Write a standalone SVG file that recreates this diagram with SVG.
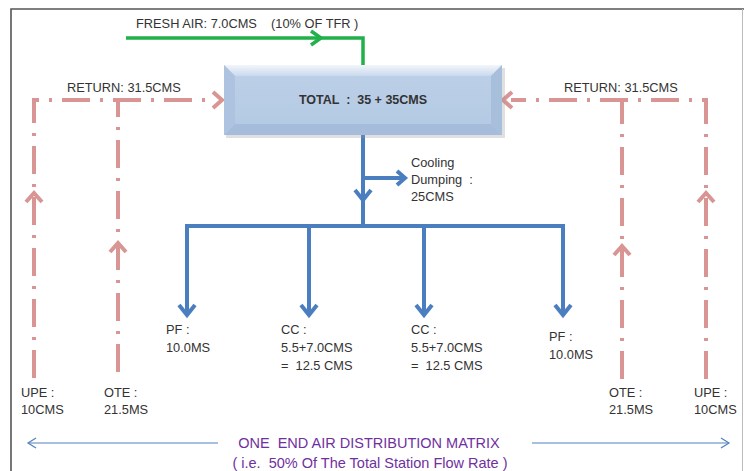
<svg xmlns="http://www.w3.org/2000/svg" width="744" height="471" viewBox="0 0 744 471">
<defs>
<style>
text{font-family:"Liberation Sans",Arial,sans-serif;fill:#333}
.lbl{font-size:12.8px}
.red{fill:none;stroke:#D99594;stroke-width:4;stroke-dasharray:28 10 3 10}
.redh{fill:none;stroke:#D99594;stroke-width:4}
.blue{fill:none;stroke:#4A7EBF;stroke-width:4}
.green{fill:none;stroke:#22B04B;stroke-width:3.5}
.thin{fill:none;stroke:#4F81BD;stroke-width:1.2}
.purple{fill:#7030A0;font-size:14.5px}
</style>
<linearGradient id="face" x1="0" y1="0" x2="0" y2="1">
<stop offset="0" stop-color="#BDD0E8"/><stop offset="1" stop-color="#B3C9E3"/>
</linearGradient>
<linearGradient id="topf" x1="0" y1="0" x2="0" y2="1">
<stop offset="0" stop-color="#F2F6FB"/><stop offset="1" stop-color="#C9D9EE"/>
</linearGradient>
</defs>
<rect width="744" height="471" fill="#fff"/>
<g id="frame">
<path d="M11,471 V9 H744" fill="none" stroke="#555" stroke-width="1.6"/>
<line x1="742.5" y1="9" x2="742.5" y2="471" stroke="#bbb" stroke-width="1"/>
</g>
<g id="connectors">
<g id="fresh-air">
<path class="green" d="M126,38 H363 V65"/>
<path class="green" d="M311,31 L321,38 L311,45"/>
</g>
<g id="return-left">
<path class="red" d="M34,378 V100 H214"/>
<path class="red" d="M118,372 V100"/>
<path class="redh" d="M213,92 L222,100 L213,108"/>
<path class="redh" d="M26,202 L34,193 L42,202"/>
<path class="redh" d="M110,252 L118,243 L126,252"/>
</g>
<g id="return-right">
<path class="red" d="M706,379 V100 H511"/>
<path class="red" d="M622,379 V100"/>
<path class="redh" d="M512,92 L503,100 L512,108"/>
<path class="redh" d="M698,202 L706,193 L714,202"/>
<path class="redh" d="M614,255 L622,246 L630,255"/>
</g>
<g id="supply">
<path class="blue" d="M363,135 V226"/>
<path class="blue" d="M355,190 L363,200 L371,190"/>
<path class="blue" d="M363,178 H404"/>
<path class="blue" d="M397,171 L405,178 L397,185"/>
<path class="blue" d="M187,314 V226 H563 V314"/>
<path class="blue" d="M309,226 V314"/>
<path class="blue" d="M424,226 V314"/>
<path class="blue" d="M179,305 L187,315 L195,305"/>
<path class="blue" d="M301,305 L309,315 L317,305"/>
<path class="blue" d="M416,305 L424,315 L432,305"/>
<path class="blue" d="M555,305 L563,315 L571,305"/>
</g>
<g id="extent-arrows">
<path class="thin" d="M218,443 H28"/>
<path class="thin" d="M36,438 L28,443 L36,448"/>
<path class="thin" d="M532,443 H729"/>
<path class="thin" d="M721,438 L729,443 L721,448"/>
</g>
</g>
<g id="total">
<rect x="226" y="68" width="279" height="70" fill="#999" opacity="0.3"/>
<rect x="224" y="65" width="278" height="70" fill="url(#face)"/>
<polygon points="224,65 502,65 491,76 235,76" fill="url(#topf)"/>
<polygon points="224,65 235,76 235,124 224,135" fill="#ADC3DF"/>
<polygon points="502,65 491,76 491,124 502,135" fill="#A8BFDC"/>
<polygon points="224,135 235,124 491,124 502,135" fill="#A5BCDA"/>
<text x="363" y="104" text-anchor="middle" font-size="12.5" font-weight="bold" fill="#222" xml:space="preserve">TOTAL  :  35 + 35CMS</text>
</g>
<g id="fresh-air-label"><text class="lbl" x="136" y="28" xml:space="preserve">FRESH AIR: 7.0CMS    (10% OF TFR )</text></g>
<g id="return-left-label"><text class="lbl" x="67" y="92">RETURN: 31.5CMS</text></g>
<g id="return-right-label"><text class="lbl" x="564" y="92">RETURN: 31.5CMS</text></g>
<g id="cooling"><text class="lbl" x="411"><tspan x="411" y="167">Cooling</tspan><tspan x="411" y="184" xml:space="preserve">Dumping  :</tspan><tspan x="411" y="201">25CMS</tspan></text></g>
<g id="pf-left"><text class="lbl"><tspan x="166" y="334">PF :</tspan><tspan x="166" y="352">10.0MS</tspan></text></g>
<g id="cc-left"><text class="lbl" xml:space="preserve"><tspan x="281" y="334">CC :</tspan><tspan x="281" y="352">5.5+7.0CMS</tspan><tspan x="281" y="370">=  12.5 CMS</tspan></text></g>
<g id="cc-right"><text class="lbl" xml:space="preserve"><tspan x="411" y="334">CC :</tspan><tspan x="411" y="352">5.5+7.0CMS</tspan><tspan x="411" y="370">=  12.5 CMS</tspan></text></g>
<g id="pf-right"><text class="lbl"><tspan x="549" y="341">PF :</tspan><tspan x="549" y="359">10.0MS</tspan></text></g>
<g id="upe-left"><text class="lbl"><tspan x="21" y="397">UPE :</tspan><tspan x="21" y="414">10CMS</tspan></text></g>
<g id="ote-left"><text class="lbl"><tspan x="104" y="397">OTE :</tspan><tspan x="104" y="414">21.5MS</tspan></text></g>
<g id="ote-right"><text class="lbl"><tspan x="609" y="397">OTE :</tspan><tspan x="609" y="414">21.5MS</tspan></text></g>
<g id="upe-right"><text class="lbl"><tspan x="694" y="397">UPE :</tspan><tspan x="694" y="414">10CMS</tspan></text></g>
<g id="caption">
<text class="purple" x="369" y="448" text-anchor="middle" xml:space="preserve">ONE  END AIR DISTRIBUTION MATRIX</text>
<text class="purple" x="370" y="468" text-anchor="middle" xml:space="preserve">( i.e.  50% Of The Total Station Flow Rate )</text>
</g>
</svg>
